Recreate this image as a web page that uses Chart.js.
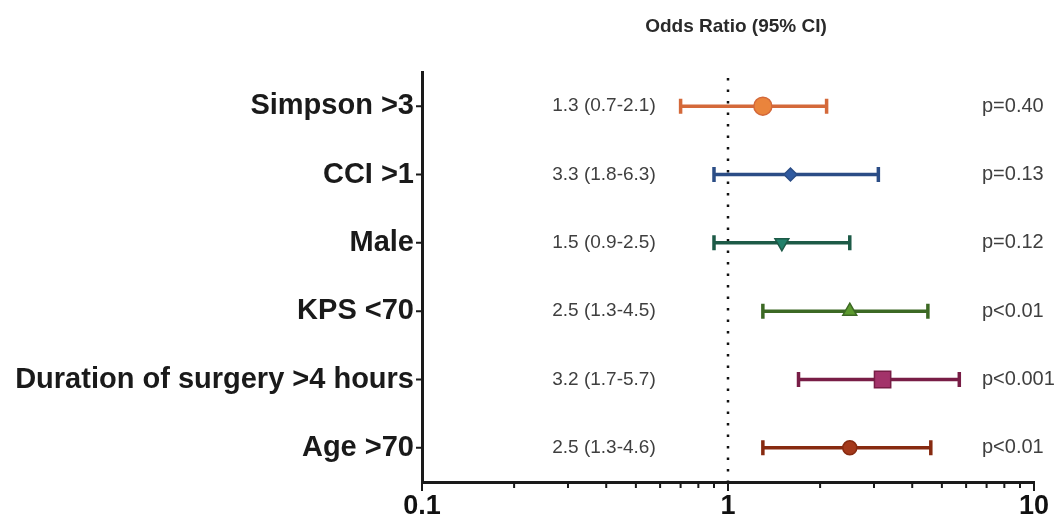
<!DOCTYPE html>
<html>
<head>
<meta charset="utf-8">
<script src="https://cdn.jsdelivr.net/npm/chart.js@4"></script>
<style>
  body { margin: 0; background: #fff; }
  #wrap { width: 1063px; height: 524px; position: relative; }
</style>
</head>
<body>
<div id="wrap"><canvas id="forestChart"></canvas></div>
<script>
// rows, top to bottom
var categories = ['Simpson >3', 'CCI >1', 'Male', 'KPS <70', 'Duration of surgery >4 hours', 'Age >70'];
// plotted odds ratios and CI bounds
var oddsRatio = [1.3, 1.6, 1.5, 2.5, 3.2, 2.5];
var ciLower   = [0.7, 0.9, 0.9, 1.3, 1.7, 1.3];
var ciUpper   = [2.1, 3.1, 2.5, 4.5, 5.7, 4.6];
// printed text columns
var ciText  = ['1.3 (0.7-2.1)', '3.3 (1.8-6.3)', '1.5 (0.9-2.5)', '2.5 (1.3-4.5)', '3.2 (1.7-5.7)', '2.5 (1.3-4.6)'];
var pText   = ['p=0.40', 'p=0.13', 'p=0.12', 'p<0.01', 'p<0.001', 'p<0.01'];
// x axis
var majorTicks = [0.1, 1, 10];
var allTicks = [0.1, 0.2, 0.3, 0.4, 0.5, 0.6, 0.7, 0.8, 0.9, 1, 2, 3, 4, 5, 6, 7, 8, 9, 10];

var lineColors  = ['#d4693a', '#2b4d86', '#1d5a47', '#3c6924', '#781d46', '#872a10'];
var pointColors = ['#ea843c', '#2f5aa0', '#21806a', '#5c9a2e', '#a3336a', '#a4391b'];
var pointStyles = ['circle', 'rectRot', 'triangle', 'triangle', 'rect', 'circle'];
var pointRot    = [0, 0, 180, 0, 0, 0];
var pointSizes  = [9, 6.5, 8, 8, 11.5, 7];

var AXIS = '#1a1a1a';
var FONT = '"Liberation Sans", Arial, sans-serif';

var forestPlugin = {
  id: 'forest',
  beforeDatasetsDraw: function (chart) {
    var ctx = chart.ctx, xs = chart.scales.x, ys = chart.scales.y, area = chart.chartArea;
    ctx.save();
    // reference line at OR = 1
    var x1 = xs.getPixelForValue(1);
    ctx.strokeStyle = '#111';
    ctx.lineWidth = 2.5;
    ctx.setLineDash([2.5, 9]);
    ctx.beginPath();
    ctx.moveTo(x1, area.top + 6);
    ctx.lineTo(x1, area.bottom);
    ctx.stroke();
    ctx.setLineDash([]);
    // CI bars
    categories.forEach(function (c, i) {
      var y = ys.getPixelForValue(i);
      var a = xs.getPixelForValue(ciLower[i]);
      var b = xs.getPixelForValue(ciUpper[i]);
      ctx.strokeStyle = lineColors[i];
      ctx.lineWidth = 3.5;
      ctx.beginPath();
      ctx.moveTo(a, y); ctx.lineTo(b, y);
      ctx.moveTo(a, y - 7.5); ctx.lineTo(a, y + 7.5);
      ctx.moveTo(b, y - 7.5); ctx.lineTo(b, y + 7.5);
      ctx.stroke();
    });
    ctx.restore();
  },
  afterDraw: function (chart) {
    var ctx = chart.ctx, xs = chart.scales.x, ys = chart.scales.y, area = chart.chartArea;
    ctx.save();
    // axis tick marks
    ctx.strokeStyle = AXIS;
    ctx.lineWidth = 2;
    ctx.beginPath();
    allTicks.forEach(function (v) {
      var x = xs.getPixelForValue(v);
      var len = majorTicks.indexOf(v) >= 0 ? 9 : 6;
      ctx.moveTo(x, area.bottom); ctx.lineTo(x, area.bottom + len);
    });
    categories.forEach(function (c, i) {
      var y = ys.getPixelForValue(i);
      ctx.moveTo(area.left, y); ctx.lineTo(area.left - 6, y);
    });
    ctx.stroke();
    // text columns
    ctx.fillStyle = '#3f3f3f';
    ctx.textBaseline = 'middle';
    categories.forEach(function (c, i) {
      var y = ys.getPixelForValue(i);
      ctx.font = '19px ' + FONT;
      ctx.textAlign = 'center';
      ctx.fillText(ciText[i], 604, y);
      ctx.font = '20px ' + FONT;
      ctx.textAlign = 'left';
      ctx.fillText(pText[i], 982, y);
    });
    ctx.fillStyle = '#2a2a2a';
    ctx.textAlign = 'center';
    ctx.font = 'bold 19px ' + FONT;
    ctx.fillText('Odds Ratio (95% CI)', 736, 27);
    ctx.restore();
  }
};

var ctx = document.getElementById('forestChart').getContext('2d');
var forestChart = new Chart(ctx, {
  type: 'scatter',
  data: {
    datasets: [{
      data: oddsRatio.map(function (v, i) { return { x: v, y: categories[i] }; }),
      pointStyle: pointStyles,
      rotation: pointRot,
      radius: pointSizes,
      backgroundColor: pointColors,
      borderColor: lineColors,
      borderWidth: 1.5
    }]
  },
  options: {
    responsive: true,
    maintainAspectRatio: false,
    animation: false,
    layout: { padding: { top: 72, right: 29, left: 0, bottom: 0 } },
    plugins: { legend: { display: false }, tooltip: { enabled: false } },
    scales: {
      x: {
        type: 'logarithmic',
        min: 0.1,
        max: 10,
        afterBuildTicks: function (scale) {
          scale.ticks = allTicks.map(function (v) { return { value: v }; });
        },
        afterFit: function (scale) { scale.height = 42; },
        grid: { display: false, drawTicks: false },
        border: { display: true, color: AXIS, width: 3 },
        ticks: {
          autoSkip: false,
          maxRotation: 0,
          padding: 8,
          color: '#111',
          font: { family: FONT, size: 27, weight: 'bold' },
          callback: function (v) { return majorTicks.indexOf(v) >= 0 ? String(v) : ''; }
        }
      },
      y: {
        type: 'category',
        labels: categories,
        offset: true,
        afterFit: function (scale) { scale.width = 422; },
        grid: { display: false, drawTicks: false },
        border: { display: true, color: AXIS, width: 3 },
        ticks: {
          padding: 8,
          color: '#1a1a1a',
          font: { family: FONT, size: 29, weight: 'bold' }
        }
      }
    }
  },
  plugins: [forestPlugin]
});
</script>
</body>
</html>
